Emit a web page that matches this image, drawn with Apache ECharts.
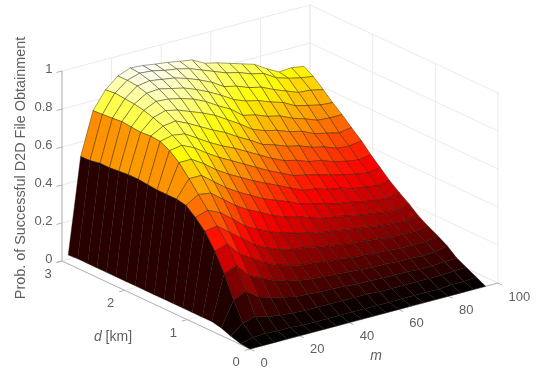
<!DOCTYPE html>
<html><head><meta charset="utf-8">
<style>html,body{margin:0;padding:0;background:#fff}#main{width:550px;height:383px;filter:blur(0.5px)}</style>
<script src="https://cdn.jsdelivr.net/npm/echarts@6/dist/echarts.min.js"></script>
</head><body><div id="main"></div>
<script>
const mValues=[0,5,10,15,20,25,30,35,40,45,50,55,60,65,70,75,80,85,90,95];
const dValues=[0,.15,.31,.46,.61,.76,.92,1.07,1.22,1.37,1.53,1.68,1.83,1.98,2.14,2.29,2.44,2.59,2.75,2.9];
const pM0=[0,.005,.02,.04,.05,.05,.05,.05,.05,.05,.05,.05,.05,.05,.05,.05,.05,.05,.05,.047];
const pM5=[0,.02,.07,.17,.285,.38,.46,.51,.55,.56,.56,.56,.565,.57,.57,.565,.56,.56,.55,.548];
const pM10=[0,.025,.09,.20,.31,.40,.47,.53,.59,.65,.71,.75,.775,.78,.775,.78,.785,.78,.775,.772];
const pM15=[0,.02,.07,.15,.24,.33,.42,.50,.58,.65,.71,.76,.79,.815,.835,.85,.86,.865,.87,.864];
const pM20=[0,.02,.06,.13,.21,.29,.37,.45,.53,.60,.67,.73,.78,.825,.855,.88,.90,.915,.92,.92];
const pM25=[0,.015,.055,.115,.18,.25,.32,.395,.48,.55,.62,.685,.74,.795,.84,.875,.905,.925,.94,.945];
const pM30=[0,.015,.05,.10,.16,.22,.285,.36,.44,.51,.58,.645,.70,.76,.815,.86,.89,.915,.935,.94];
const pM35=[0,.015,.05,.095,.145,.20,.26,.33,.41,.475,.545,.61,.665,.725,.79,.84,.875,.905,.92,.93];
const pM40=[0,.015,.05,.09,.135,.185,.24,.305,.375,.44,.51,.575,.635,.695,.76,.81,.85,.885,.91,.922];
const pM45=[0,.015,.05,.09,.13,.18,.235,.29,.35,.415,.48,.54,.60,.655,.72,.77,.82,.86,.895,.91];
const pM50=[0,.015,.05,.085,.125,.17,.22,.275,.335,.39,.45,.505,.565,.62,.68,.735,.785,.83,.87,.90];
const pM55=[0,.015,.05,.08,.12,.165,.21,.255,.31,.36,.42,.475,.53,.58,.635,.685,.745,.79,.845,.865];
const pM60=[0,.015,.045,.08,.115,.155,.20,.245,.29,.345,.39,.445,.50,.56,.61,.67,.72,.775,.82,.85];
const pM65=[0,.015,.045,.075,.11,.15,.19,.235,.28,.325,.38,.43,.485,.535,.595,.645,.705,.75,.805,.83];
const pM70=[0,.015,.045,.075,.11,.145,.185,.225,.27,.31,.36,.415,.46,.52,.57,.63,.68,.735,.78,.81];
const pM75=[0,.015,.045,.075,.105,.14,.175,.215,.255,.30,.35,.395,.45,.495,.555,.60,.66,.705,.765,.79];
const pM80=[0,.015,.045,.07,.105,.135,.17,.205,.245,.285,.33,.38,.425,.48,.525,.58,.625,.68,.725,.75];
const pM85=[0,.02,.045,.07,.10,.135,.165,.20,.235,.275,.32,.365,.41,.455,.51,.555,.61,.655,.705,.715];
const pM90=[0,.02,.05,.075,.105,.135,.165,.195,.23,.27,.31,.355,.40,.45,.495,.55,.595,.65,.69,.72];
const pM95=[0,.026,.053,.078,.118,.147,.175,.205,.245,.28,.32,.365,.41,.46,.505,.55,.59,.635,.68,.71];
const surface=[pM0,pM5,pM10,pM15,pM20,pM25,pM30,pM35,pM40,pM45,pM50,pM55,pM60,pM65,pM70,pM75,pM80,pM85,pM90,pM95];
const zTicks=[0,.2,.4,.6,.8,1], zTickLabels=['0','0.2','0.4','0.6','0.8','1'];
const mTicks=[0,20,40,60,80,100], dTicks=[0,1,2,3];
const zTitle='Prob. of Successful D2D File Obtainment';

const view={ox:250,oy:349,mx:2.48,my:.66,dx:62.67,dy:29.33,zy:190};
const project=(m,d,z)=>[view.ox+view.mx*m-view.dx*d, view.oy-view.my*m-view.dy*d-view.zy*z];
const zMax=Math.max(...surface.map(r=>Math.max(...r)));
function hot(v){const t=Math.max(0,Math.min(1,v/zMax)),n=3/8;
  const r=Math.min(1,1/64+t/n),g=Math.max(0,Math.min(1,(t-n)/n)),b=Math.max(0,(t-2*n)/(1-2*n));
  return `rgb(${Math.round(r*255)},${Math.round(g*255)},${Math.round(b*255)})`;}

const cells=[];
for(let i=mValues.length-2;i>=0;i--)for(let j=dValues.length-2;j>=0;j--)cells.push([i,j]);

const GRID='#ebebeb',AXIS='#b4b4b4',TXT='#5f5f5f';
const segs=[];
zTicks.forEach(z=>{segs.push([0,3,z,100,3,z,GRID]);segs.push([100,3,z,100,0,z,GRID]);});
mTicks.forEach(m=>{segs.push([m,3,0,m,3,1,GRID]);segs.push([m,0,0,m,3,0,GRID]);});
dTicks.forEach(d=>{segs.push([100,d,0,100,d,1,GRID]);segs.push([0,d,0,100,d,0,GRID]);});
segs.push([0,3,0,0,3,1,AXIS],[0,3,0,0,0,0,AXIS],[0,0,0,100,0,0,AXIS]);
zTicks.forEach(z=>segs.push([0,3,z,-2.2,3,z,AXIS]));
mTicks.forEach(m=>segs.push([m,0,0,m,-.07,0,AXIS]));
dTicks.forEach(d=>segs.push([0,d,0,-2.2,d,0,AXIS]));

const font='13px "Liberation Sans", Arial, sans-serif';
const texts=[];
zTicks.forEach((z,k)=>{const p=project(0,3,z);texts.push([p[0]-9.5,p[1]-2,zTickLabels[k],'right']);});
dTicks.forEach(d=>{const p=project(0,d,0);texts.push([p[0]-14,p[1]+13.5,String(d),'center']);});
mTicks.forEach(m=>{const p=project(m,0,0);texts.push([p[0]+10.5,p[1]+14,String(m),'left']);});

const ax=(max,inv)=>({type:'value',min:0,max:max,inverse:inv,show:false});
const chart=echarts.init(document.getElementById('main'),null,{renderer:'canvas'});
chart.setOption({
  animation:false,backgroundColor:'#fff',
  grid:{left:0,right:0,top:0,bottom:0},
  xAxis:ax(550,false),yAxis:ax(383,true),
  series:[
   {type:'custom',silent:true,clip:false,z:1,data:segs.map((s,k)=>[k,0]),encode:{x:0,y:1},
    renderItem(p,api){const s=segs[api.value(0)];const a=api.coord(project(s[0],s[1],s[2])),b=api.coord(project(s[3],s[4],s[5]));
      return {type:'line',shape:{x1:a[0],y1:a[1],x2:b[0],y2:b[1]},style:{stroke:s[6],lineWidth:1}};}},
   {type:'custom',silent:true,clip:false,z:2,data:cells,encode:{x:0,y:1},
    renderItem(p,api){const i=api.value(0),j=api.value(1);
      const pts=[[i,j],[i+1,j],[i+1,j+1],[i,j+1]].map(q=>api.coord(project(mValues[q[0]],dValues[q[1]],surface[q[0]][q[1]])));
      return {type:'polygon',shape:{points:pts},style:{fill:hot(surface[i][j]),stroke:'rgba(30,20,0,0.5)',lineWidth:.8,lineJoin:'round'}};}},
   {type:'custom',silent:true,clip:false,z:3,data:texts.map((s,k)=>[k,0]),encode:{x:0,y:1},
    renderItem(p,api){const t=texts[api.value(0)];const c=api.coord([t[0],t[1]]);
      return {type:'text',x:c[0],y:c[1],style:{text:t[2],fill:TXT,font:font,align:t[3],verticalAlign:'middle'}};}}
  ],
  graphic:[
   {type:'text',x:21,y:168,rotation:Math.PI/2,silent:true,style:{text:zTitle,fill:TXT,font:'14.4px "Liberation Sans", Arial, sans-serif',align:'center',verticalAlign:'middle'}},
   {type:'text',x:113,y:337,silent:true,style:{text:'{i|d} [km]',fill:TXT,font:'14px "Liberation Sans", Arial, sans-serif',align:'center',verticalAlign:'middle',rich:{i:{fontStyle:'italic',font:'italic 14px "Liberation Sans", Arial, sans-serif',fill:TXT}}}},
   {type:'text',x:376,y:356,silent:true,style:{text:'m',fill:TXT,font:'italic 14px "Liberation Sans", Arial, sans-serif',align:'center',verticalAlign:'middle'}}
  ]
});
</script></body></html>
